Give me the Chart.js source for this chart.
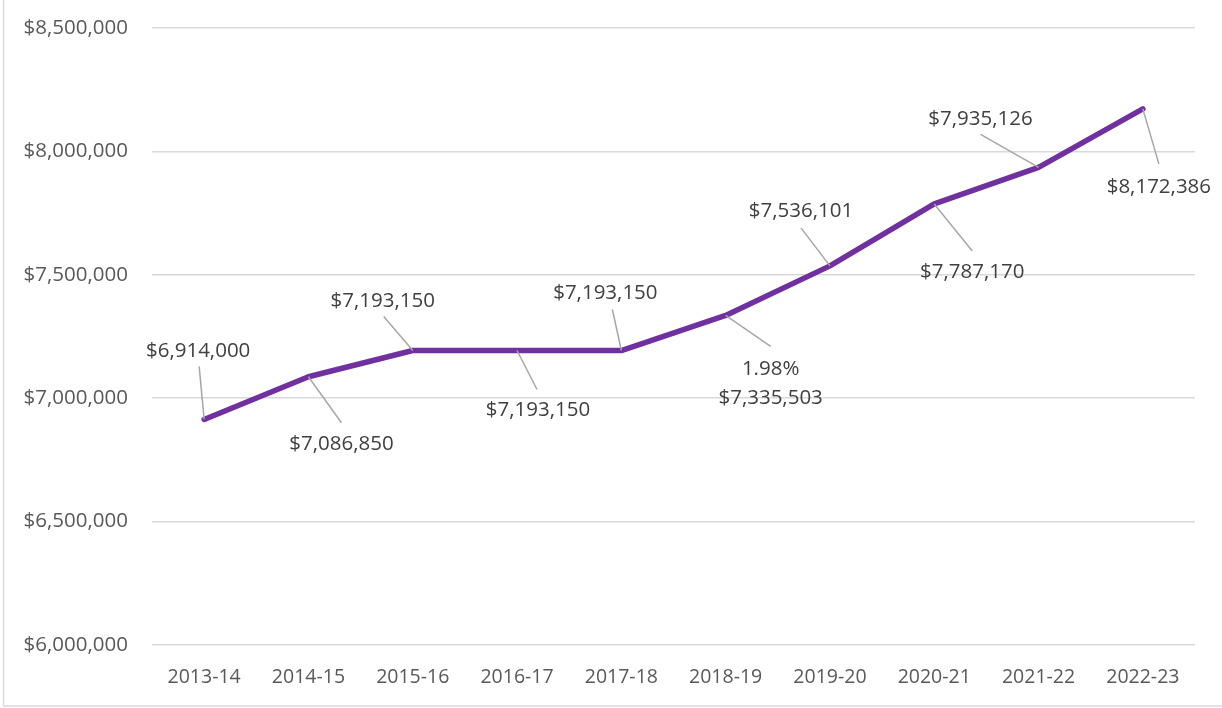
<!DOCTYPE html>
<html>
<head>
<meta charset="utf-8">
<script src="https://cdn.jsdelivr.net/npm/chart.js@4.4.1/dist/chart.umd.min.js"></script>
<style>
  html, body { margin: 0; padding: 0; background: #fff; }
  #wrap { width: 1222px; height: 708px; position: relative; }
</style>
</head>
<body>
<div id="wrap"><canvas id="budgetChart" width="1222" height="708"></canvas></div>
<script>
const years = ["2013-14", "2014-15", "2015-16", "2016-17", "2017-18",
               "2018-19", "2019-20", "2020-21", "2021-22", "2022-23"];
const funding = [6914000, 7086850, 7193150, 7193150, 7193150,
                 7335503, 7536101, 7787170, 7935126, 8172386];
const notes = ["", "", "", "", "", "1.98%", "", "", "", ""];
const yTicks = [6000000, 6500000, 7000000, 7500000, 8000000, 8500000];

// where each label sits relative to its point (px): [lineEndX, lineEndY, textX, textY]
const labelSpots = [
    [-5, -53, -6, -70],
    [33, 46, 33, 66],
    [-29, -34, -30, -51],
    [20, 39, 21, 58],
    [-9, -41, -16, -59],
    [45, 31, 45, 52],
    [-29, -38, -29, -56],
    [38, 47, 38, 67],
    [-58, -33, -58, -50],
    [16, 55, 16, 77]
];

const FONT = "'Open Sans', sans-serif";
const money = v => "$" + v.toLocaleString("en-US");

const leaderLabels = {
    id: "leaderLabels",
    afterDatasetsDraw(chart) {
        const ctx = chart.ctx;
        const meta = chart.getDatasetMeta(0);
        ctx.save();
        meta.data.forEach((pt, i) => {
            const s = labelSpots[i];
            ctx.strokeStyle = "#a6a6a6";
            ctx.lineWidth = 1.5;
            ctx.beginPath();
            ctx.moveTo(pt.x, pt.y);
            ctx.lineTo(pt.x + s[0], pt.y + s[1]);
            ctx.stroke();

            ctx.fillStyle = "#404040";
            ctx.font = "20.5px " + FONT;
            ctx.textAlign = "center";
            ctx.textBaseline = "middle";
            const ty = pt.y + s[3] + 1.5;
            if (notes[i]) {
                ctx.fillText(notes[i], pt.x + s[2], ty);
                ctx.fillText(money(funding[i]), pt.x + s[2], ty + 29);
            } else {
                ctx.fillText(money(funding[i]), pt.x + s[2], ty);
            }
        });
        ctx.restore();
    }
};

const frame = {
    id: "frame",
    beforeDraw(chart) {
        const ctx = chart.ctx;
        ctx.save();
        ctx.strokeStyle = "#d9d9d9";
        ctx.lineWidth = 1.5;
        ctx.strokeRect(3.5, -2, 1230, 708);
        ctx.restore();
    }
};

new Chart(document.getElementById("budgetChart"), {
    type: "line",
    data: {
        labels: years,
        datasets: [{
            data: funding,
            borderColor: "#7030a0",
            backgroundColor: "#7030a0",
            borderWidth: 5.5,
            borderCapStyle: "round",
            borderJoinStyle: "round",
            pointRadius: 0,
            tension: 0
        }]
    },
    options: {
        responsive: false,
        animation: false,
        layout: { padding: { top: 28, right: 27, left: 0, bottom: 0 } },
        plugins: {
            legend: { display: false },
            tooltip: { enabled: false }
        },
        scales: {
            x: {
                offset: true,
                grid: { display: false, drawTicks: false },
                border: { display: false },
                ticks: {
                    color: "#595959",
                    font: { family: FONT, size: 19.5 },
                    maxRotation: 0,
                    padding: 21
                },
                afterFit(scale) {
                    scale.height = 63;
                    scale.paddingLeft = 0;
                    scale.paddingRight = 0;
                }
            },
            y: {
                min: 6000000,
                max: 8500000,
                afterBuildTicks(scale) { scale.ticks = yTicks.map(v => ({ value: v })); },
                grid: { color: "#d9d9d9", lineWidth: 1.5, drawTicks: false },
                border: { display: false },
                ticks: {
                    color: "#595959",
                    font: { family: FONT, size: 20.5 },
                    padding: 24,
                    callback: v => money(v)
                },
                afterFit(scale) {
                    scale.width = 152;
                    scale.paddingTop = 0;
                    scale.paddingBottom = 0;
                }
            }
        }
    },
    plugins: [frame, leaderLabels]
});
</script>
</body>
</html>
